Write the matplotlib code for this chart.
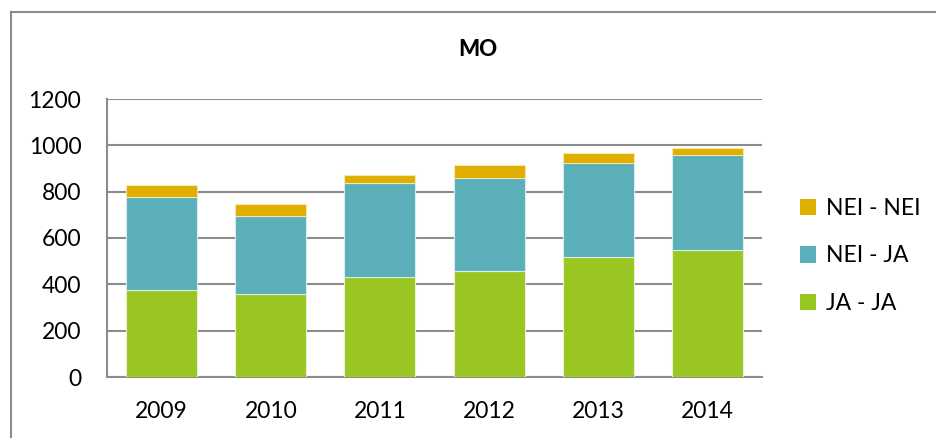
import matplotlib
matplotlib.use("Agg")
import matplotlib.pyplot as plt
from matplotlib.lines import Line2D
import numpy as np

years = ["2009", "2010", "2011", "2012", "2013", "2014"]
ja_ja = [375, 360, 430, 458, 518, 547]
nei_ja = [400, 335, 408, 401, 404, 410]
nei_nei = [53, 50, 35, 56, 43, 33]
yticks = [0, 200, 400, 600, 800, 1000, 1200]

c_green = "#9AC623"
c_teal = "#5AAFB9"
c_yellow = "#DFAF00"
grid_c = "#8C8C8C"

plt.rcParams['font.family'] = ['Lato', 'DejaVu Sans']

fig = plt.figure(figsize=(9.36, 4.38), dpi=100)
ax = fig.add_axes([107/936, 61/438, 655/936, 278/438])

x = np.arange(len(years))
w = 0.65
b1 = ax.bar(x, ja_ja, w, color=c_green, edgecolor="#E8F2D0", linewidth=0.8, label="JA - JA", zorder=3)
b2 = ax.bar(x, nei_ja, w, bottom=ja_ja, color=c_teal, edgecolor="#D6ECEE", linewidth=0.8, label="NEI - JA", zorder=3)
bottom3 = [a + b for a, b in zip(ja_ja, nei_ja)]
b3 = ax.bar(x, nei_nei, w, bottom=bottom3, color=c_yellow, edgecolor="#F5E6B0", linewidth=0.8, label="NEI - NEI", zorder=3)

ax.set_xlim(-0.5, len(years) - 0.5)
ax.set_ylim(0, 1200)
ax.set_yticks(yticks)
ax.set_yticklabels([str(v) for v in yticks])
ax.set_xticks(x)
ax.set_xticklabels(years)
ax.yaxis.grid(True, color=grid_c, linewidth=1.5, zorder=0)
ax.set_axisbelow(True)
for s in ["top", "right"]:
    ax.spines[s].set_visible(False)
for s in ["left", "bottom"]:
    ax.spines[s].set_color(grid_c)
    ax.spines[s].set_linewidth(1.5)
fs = 16.5
ax.tick_params(axis="y", length=0, pad=18.5, labelsize=fs, labelcolor="#000000")
ax.tick_params(axis="x", length=0, pad=17.5, labelsize=fs, labelcolor="#000000")

handles = [b3, b2, b1]
labels = ["NEI - NEI", "NEI - JA", "JA - JA"]
leg = fig.legend(handles, labels, loc="center left", bbox_to_anchor=(800/936, 1 - 256/438),
                 frameon=False, fontsize=fs, handlelength=0.7, handleheight=0.7,
                 handletextpad=0.45, labelspacing=1.15, borderaxespad=0, borderpad=0)
for p in leg.get_patches():
    p.set_edgecolor("none")

fig.text(478/936, 1 - 50/438, "MO", ha="center", va="center", fontsize=16,
         fontweight=900, family=["Lato", "DejaVu Sans"])

# outer chart border
fig.add_artist(Line2D([11/936, 11/936], [0, 1 - 12/438], transform=fig.transFigure, color=grid_c, linewidth=1.5))
fig.add_artist(Line2D([11/936, 1], [1 - 12/438, 1 - 12/438], transform=fig.transFigure, color=grid_c, linewidth=1.5))

fig.savefig("out.png", dpi=100)
